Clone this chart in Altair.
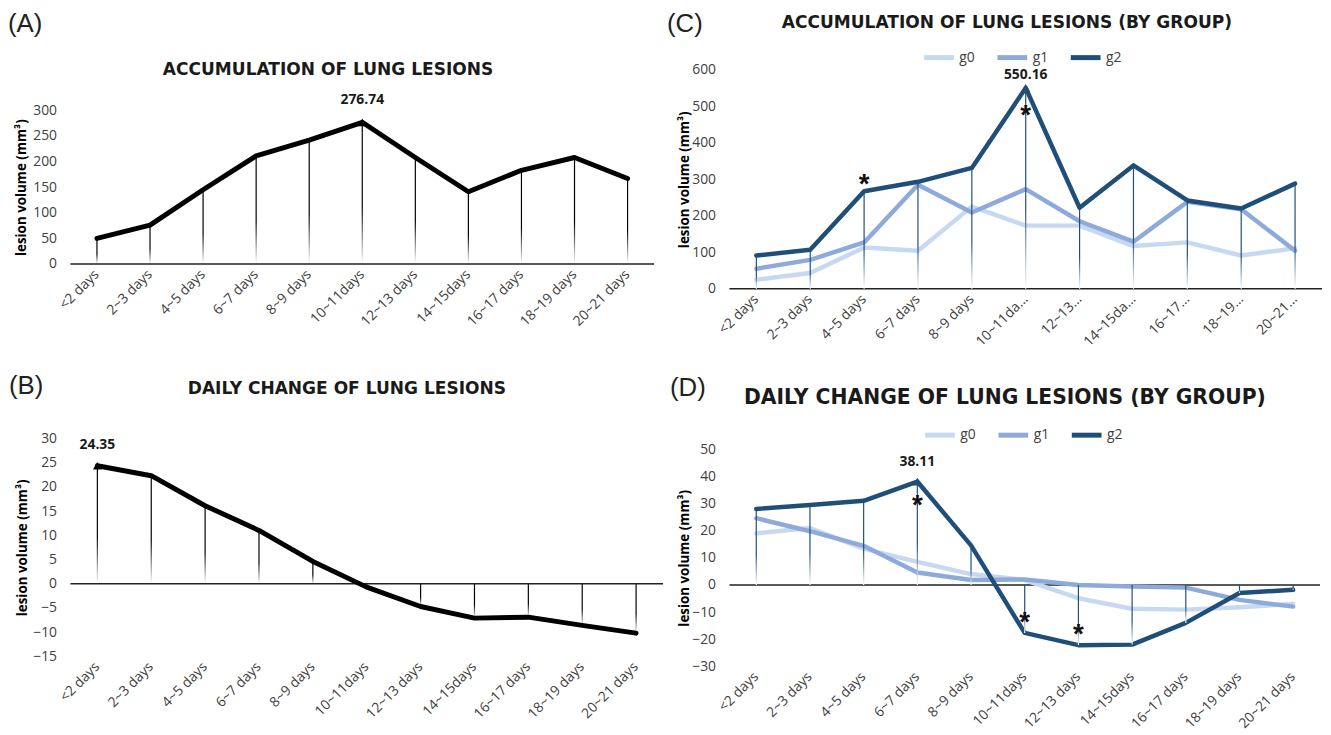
import altair as alt
import pandas as pd

# ---------------- data ----------------
cats = ["<2 days", "2~3 days", "4~5 days", "6~7 days", "8~9 days", "10~11days",
        "12~13 days", "14~15days", "16~17 days", "18~19 days", "20~21 days"]
cats_c = ["<2 days", "2~3 days", "4~5 days", "6~7 days", "8~9 days", "10~11da…",
          "12~13…", "14~15da…", "16~17…", "18~19…", "20~21…"]

acc_total = [50, 76, 145, 211, 242, 276.74, 208, 141, 183, 208, 167]
daily_total = [24.35, 22.3, 16.1, 11.0, 4.6, -0.7, -4.7, -7.1, -6.9, -8.6, -10.2]

groups = ["g0", "g1", "g2"]
group_colors = ["#c6d9f1", "#8eaadb", "#1f4e79"]

acc_g0 = [25, 43, 113, 104, 225, 173, 173, 117, 127, 91, 111]
acc_g1 = [55, 79, 127, 285, 209, 273, 185, 129, 238, 218, 104]
acc_g2 = [91, 107, 267, 293, 331, 550.16, 222, 338, 242, 220, 288]

daily_g0 = [19, 21, 13.4, 8.5, 4, 1.8, -4.9, -8.8, -9.1, -8.2, -7]
daily_g1 = [24.6, 19.8, 14.4, 4.6, 1.8, 2, 0, -0.6, -1, -5.5, -8]
daily_g2 = [28, 29.5, 31, 38.11, 14.6, -17.7, -22.2, -22, -14, -3, -1.8]

ticks_a = [0, 50, 100, 150, 200, 250, 300]
ticks_b = [-15, -10, -5, 0, 5, 10, 15, 20, 25, 30]
ticks_c = [0, 100, 200, 300, 400, 500, 600]
ticks_d = [-30, -20, -10, 0, 10, 20, 30, 40, 50]

stars_c_above = ["4~5 days"]
stars_c_below = ["10~11da…"]
stars_d_above = ["10~11days", "12~13 days"]
stars_d_below = ["6~7 days"]

title_a = "ACCUMULATION OF LUNG LESIONS"
title_b = "DAILY CHANGE OF LUNG LESIONS"
title_c = "ACCUMULATION OF LUNG LESIONS (BY GROUP)"
title_d = "DAILY CHANGE OF LUNG LESIONS (BY GROUP)"
y_title = "lesion volume (mm³)"

FONT = "Open Sans"
TFONT = "DejaVu Sans"
LFONT = "Liberation Sans"


def long_df(categories, g0, g1, g2):
    rows = []
    for gname, vals in zip(groups, [g0, g1, g2]):
        for c, v in zip(categories, vals):
            rows.append({"cat": c, "group": gname, "val": v})
    return pd.DataFrame(rows)


def fade(c):
    return {"gradient": "linear", "x1": 0, "x2": 0, "y1": 0, "y2": 1,
            "stops": [{"offset": 0, "color": c}, {"offset": 0.6, "color": c},
                      {"offset": 1, "color": "#ffffff"}]}


def x_axis():
    return alt.Axis(labelAngle=-45, labelAlign="right", labelBaseline="middle",
                    domain=False, ticks=False, grid=False,
                    labelFont=FONT, labelFontSize=14, labelColor="#404040",
                    labelPadding=8, title=None)


def xbar(categories):
    return alt.X("cat:N", scale=alt.Scale(type="band", domain=categories,
                                          paddingInner=0, paddingOuter=0),
                 axis=x_axis())


def xpt(categories):
    return alt.X("cat:N", scale=alt.Scale(type="band", domain=categories,
                                          paddingInner=0, paddingOuter=0),
                 axis=x_axis(), bandPosition=0.5)


def yenc(field, dom, tick_vals, ty, tx):
    return alt.Y(field, type="quantitative",
                 scale=alt.Scale(domain=dom, nice=False, zero=False),
                 axis=alt.Axis(values=tick_vals, grid=False, domain=False, ticks=False,
                               labelFont=FONT, labelFontSize=14, labelColor="#404040",
                               labelPadding=14, title=y_title, titleFont=FONT,
                               titleFontSize=13.5, titleFontWeight="bold",
                               titleColor="#000000", titleAngle=270, titleAlign="center",
                               titleBaseline="middle", titleX=tx, titleY=ty))


def text_at(t, x, y, size, font, weight="normal", align="left", baseline="top",
            color="#222222"):
    return alt.Chart(pd.DataFrame({"t": [t]})).mark_text(
        align=align, baseline=baseline, font=font, fontSize=size,
        fontWeight=weight, color=color).encode(text="t:N", x=alt.value(x), y=alt.value(y))


zero_df = pd.DataFrame({"zero": [0]})


def single_panel(categories, values, dom, tick_vals, w, h, tx, ty, letter, lpos, title,
                 tpos, tsize, peak_dy):
    df = pd.DataFrame({"cat": categories, "val": values})
    base = alt.Chart(df)
    Y = lambda f: yenc(f, dom, tick_vals, ty, tx)
    drop = base.mark_bar(size=1.2, color=fade("#000000")).encode(
        x=xbar(categories), y=Y("val"), y2=alt.datum(0))
    rule = alt.Chart(zero_df).mark_rule(color="#222222", strokeWidth=1.5).encode(y=Y("zero"))
    line = base.mark_line(color="#000000", strokeWidth=5, strokeCap="round",
                          strokeJoin="round").encode(x=xpt(categories), y=Y("val"))
    peak = base.transform_joinaggregate(m="max(val)").transform_filter("datum.val == datum.m")
    tri = peak.mark_point(shape="triangle-up", filled=True, size=80, color="#000000",
                          opacity=1).encode(x=xpt(categories), y=Y("val"))
    plab = peak.mark_text(dy=peak_dy, font=FONT, fontSize=14, fontWeight="bold",
                          color="#1a1a1a").encode(
        x=xpt(categories), y=Y("val"), text=alt.Text("val:Q", format=".2f"))
    lt = text_at(letter, lpos[0], lpos[1], 26, LFONT)
    tt = text_at(title, tpos[0], tpos[1], tsize, TFONT, weight="bold", align="center",
                 baseline="middle", color="#1a1a1a")
    return alt.layer(drop, rule, line, tri, plab, lt, tt).properties(width=w, height=h)


def group_panel(categories, g0, g1, g2, dom, tick_vals, w, h, tx, ty, letter, lpos, title,
                tpos, tsize, peak_dy, legpos, stars):
    df = long_df(categories, g0, g1, g2)
    base = alt.Chart(df)
    Y = lambda f: yenc(f, dom, tick_vals, ty, tx)
    g2df = base.transform_filter("datum.group == 'g2'")
    drop = g2df.mark_bar(size=1.2, color=fade(group_colors[2])).encode(
        x=xbar(categories), y=Y("val"), y2=alt.datum(0))
    rule = alt.Chart(zero_df).mark_rule(color="#222222", strokeWidth=1.5).encode(y=Y("zero"))
    lines = base.mark_line(strokeWidth=4.5, strokeCap="round", strokeJoin="round").encode(
        x=xpt(categories), y=Y("val"),
        color=alt.Color("group:N", scale=alt.Scale(domain=groups, range=group_colors),
                        legend=alt.Legend(orient="none", legendX=legpos[0],
                                          legendY=legpos[1], direction="horizontal",
                                          title=None, symbolType="stroke",
                                          symbolStrokeWidth=5, symbolSize=900,
                                          labelFont=FONT, labelFontSize=14,
                                          labelColor="#404040", columnPadding=12,
                                          labelOffset=3)))
    peak = g2df.transform_joinaggregate(m="max(val)").transform_filter("datum.val == datum.m")
    tri = peak.mark_point(shape="triangle-up", filled=True, size=80,
                          color=group_colors[2], opacity=1).encode(
        x=xpt(categories), y=Y("val"))
    plab = peak.mark_text(dy=peak_dy, font=FONT, fontSize=14, fontWeight="bold",
                          color="#1a1a1a").encode(
        x=xpt(categories), y=Y("val"), text=alt.Text("val:Q", format=".2f"))
    star_layers = []
    for cat_list, sdy in stars:
        star_layers.append(
            g2df.transform_filter(alt.FieldOneOfPredicate(field="cat", oneOf=cat_list))
            .mark_text(text="*", dy=sdy, baseline="alphabetic", font=LFONT, fontSize=28,
                       fontWeight="bold", color="#111111")
            .encode(x=xpt(categories), y=Y("val")))
    lt = text_at(letter, lpos[0], lpos[1], 26, LFONT)
    tt = text_at(title, tpos[0], tpos[1], tsize, TFONT, weight="bold", align="center",
                 baseline="middle", color="#1a1a1a")
    return alt.layer(rule, lines, drop, tri, plab, *star_layers, lt, tt).properties(
        width=w, height=h)


# A's plot area is extended upward (blank, no ticks) so its top lines up with C's
A = single_panel(cats, acc_total, [0, 379.35], ticks_a, 589, 196, -49, 118.5, "(A)",
                 (-63, -59), title_a, (260, 0), 17.2, -22)
B = single_panel(cats, daily_total, [-15, 30], ticks_b, 598, 220, -48, 110, "(B)",
                 (-62, -66), title_b, (279, -50), 17.2, -21)
C = group_panel(cats_c, acc_g0, acc_g1, acc_g2, [0, 600], ticks_c, 598, 221, -45, 110.5,
                "(C)", (-63, -59), title_c, (280, -47), 17.2, -13, (194, -30),
                [(stars_c_above, 2), (stars_c_below, 36)])
# D's plot area is extended upward (blank, no ticks) so its top lines up with B's
D = group_panel(cats, daily_g0, daily_g1, daily_g2, [-30, 54.02], ticks_d, 596, 230, -45,
                120.5, "(D)", (-60, -64), title_d, (278, -41), 20.5, -20, (195, -21),
                [(stars_d_above, -2), (stars_d_below, 33)])

chart = alt.concat(A, C, B, D, columns=2, spacing={"row": 24, "column": 3},
                   align="each").resolve_scale(color="independent").resolve_legend(
    color="independent").properties(padding=0).configure(
    background="white").configure_view(stroke=None)

chart.save("out.html", embed_options={"renderer": "svg", "actions": False})
